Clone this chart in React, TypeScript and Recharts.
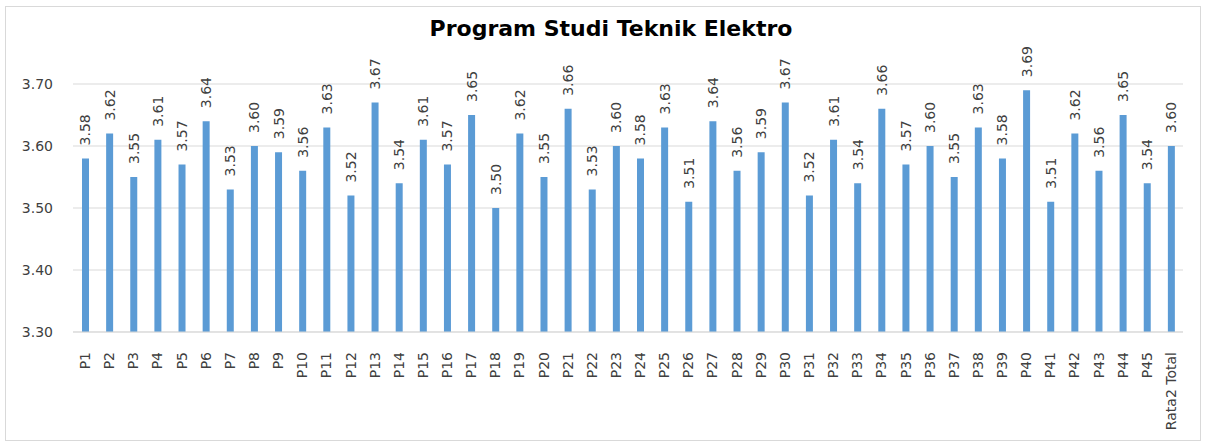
import React from 'react';
import { BarChart, Bar, XAxis, YAxis, CartesianGrid, LabelList } from 'recharts';

const categories = [
  'P1', 'P2', 'P3', 'P4', 'P5', 'P6', 'P7', 'P8', 'P9', 'P10',
  'P11', 'P12', 'P13', 'P14', 'P15', 'P16', 'P17', 'P18', 'P19', 'P20',
  'P21', 'P22', 'P23', 'P24', 'P25', 'P26', 'P27', 'P28', 'P29', 'P30',
  'P31', 'P32', 'P33', 'P34', 'P35', 'P36', 'P37', 'P38', 'P39', 'P40',
  'P41', 'P42', 'P43', 'P44', 'P45', 'Rata2 Total',
];

const scores = [
  3.58, 3.62, 3.55, 3.61, 3.57, 3.64, 3.53, 3.60, 3.59, 3.56,
  3.63, 3.52, 3.67, 3.54, 3.61, 3.57, 3.65, 3.50, 3.62, 3.55,
  3.66, 3.53, 3.60, 3.58, 3.63, 3.51, 3.64, 3.56, 3.59, 3.67,
  3.52, 3.61, 3.54, 3.66, 3.57, 3.60, 3.55, 3.63, 3.58, 3.69,
  3.51, 3.62, 3.56, 3.65, 3.54, 3.60,
];

const yTicks = [3.3, 3.4, 3.5, 3.6, 3.7];

const data = categories.map((name, i) => ({ name, value: scores[i] }));

const FONT = '"DejaVu Sans", sans-serif';

function XTick({ x, y, payload }: any) {
  return (
    <text
      x={x + 5}
      y={y + 12}
      transform={`rotate(-90, ${x + 5}, ${y + 12})`}
      textAnchor="end"
      fontSize={14}
      fontFamily={FONT}
      fill="#404040"
    >
      {payload.value}
    </text>
  );
}

function ValueLabel({ x, y, width, value }: any) {
  const cx = x + width / 2 + 5;
  const ty = y - 13;
  return (
    <text
      x={cx}
      y={ty}
      transform={`rotate(-90, ${cx}, ${ty})`}
      textAnchor="start"
      fontSize={14}
      fontFamily={FONT}
      fill="#404040"
    >
      {Number(value).toFixed(2)}
    </text>
  );
}

export default function App() {
  return (
    <div style={{ position: 'absolute', left: 0, top: 0, width: 1206, height: 446, background: '#fff' }}>
      <div
        style={{
          position: 'absolute',
          left: 5,
          top: 6,
          width: 1194,
          height: 433,
          border: '1px solid #d9d9d9',
        }}
      />
      <div
        style={{
          position: 'absolute',
          left: 0,
          top: 16,
          width: 1222,
          textAlign: 'center',
          fontFamily: FONT,
          fontWeight: 'bold',
          fontSize: 22,
          color: '#000',
        }}
      >
        Program Studi Teknik Elektro
      </div>
      <div style={{ position: 'absolute', left: 0, top: 0 }}>
        <BarChart
          width={1206}
          height={446}
          data={data}
          margin={{ top: 84, right: 23, left: 0, bottom: 0 }}
          barCategoryGap={0}
        >
          <CartesianGrid vertical={false} stroke="#d9d9d9" />
          <XAxis
            dataKey="name"
            interval={0}
            height={114}
            tick={<XTick />}
            tickLine={false}
            axisLine={{ stroke: '#d9d9d9' }}
          />
          <YAxis
            domain={[3.3, 3.7]}
            ticks={yTicks}
            width={73}
            axisLine={false}
            tickLine={false}
            tickFormatter={(v: number) => v.toFixed(2)}
            tick={{ fontSize: 14, fontFamily: FONT, fill: '#404040', dx: -12 }}
            allowDataOverflow
          />
          <Bar dataKey="value" fill="#5b9bd5" barSize={7} isAnimationActive={false}>
            <LabelList dataKey="value" content={<ValueLabel />} />
          </Bar>
        </BarChart>
      </div>
    </div>
  );
}
